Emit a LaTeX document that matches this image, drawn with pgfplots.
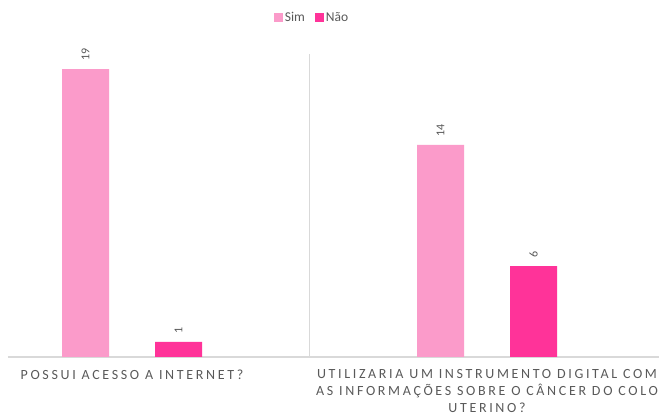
\documentclass[border=0pt]{standalone}
\usepackage{pgfplots}
\pgfplotsset{compat=1.18}
\usepackage{fontspec}
\setmainfont{Carlito}
\newfontfamily\spaced[LetterSpace=19]{Carlito}
\definecolor{simc}{HTML}{FB9BCA}
\definecolor{naoc}{HTML}{FF3399}
\definecolor{txt}{HTML}{595959}
\definecolor{axc}{HTML}{D9D9D9}
\begin{document}
\begin{tikzpicture}
\useasboundingbox (0,0) rectangle (659pt,417pt);
\begin{axis}[
  at={(8pt,60pt)}, anchor=south west,
  scale only axis, width=651pt, height=303pt,
  xmin=8, xmax=659, ymin=0, ymax=20,
  ybar, bar width=47pt,
  axis x line*=bottom, axis y line=none,
  axis line style={axc, line width=1.2pt},
  xtick={132,487}, major tick length=0pt,
  xticklabels={POSSUI ACESSO A INTERNET?, UTILIZARIA UM INSTRUMENTO DIGITAL COM\\AS INFORMAÇÕES SOBRE O CÂNCER DO COLO\\UTERINO?},
  xticklabel style={font=\spaced\fontsize{14}{17}\selectfont, text=txt, align=center, anchor=north, yshift=-9pt},
  extra x ticks={309.5}, extra x tick labels={},
  extra x tick style={grid=major, major grid style={axc, line width=1.2pt}},
  /pgf/number format/assume math mode=true,
  nodes near coords, every node near coord/.append style={rotate=90, anchor=west, inner xsep=8pt, font=\fontsize{12}{13}\selectfont, text=txt},
  clip=false,
  legend style={at={(0.467,1.119)}, anchor=center, draw=none, legend columns=2, font=\fontsize{13.5}{15}\selectfont, text=txt, /tikz/every even column/.append style={column sep=8pt}},
  legend image code/.code={\fill[#1] (0pt,-4.5pt) rectangle (9pt,4.5pt);},
]
\addplot[fill=simc, draw=none, bar shift=-46.5pt] coordinates {(132,19) (487,14)};
\addlegendentry{Sim}
\addplot[fill=naoc, draw=none, bar shift=46.5pt] coordinates {(132,1) (487,6)};
\addlegendentry{Não}
\end{axis}
\end{tikzpicture}
\end{document}
